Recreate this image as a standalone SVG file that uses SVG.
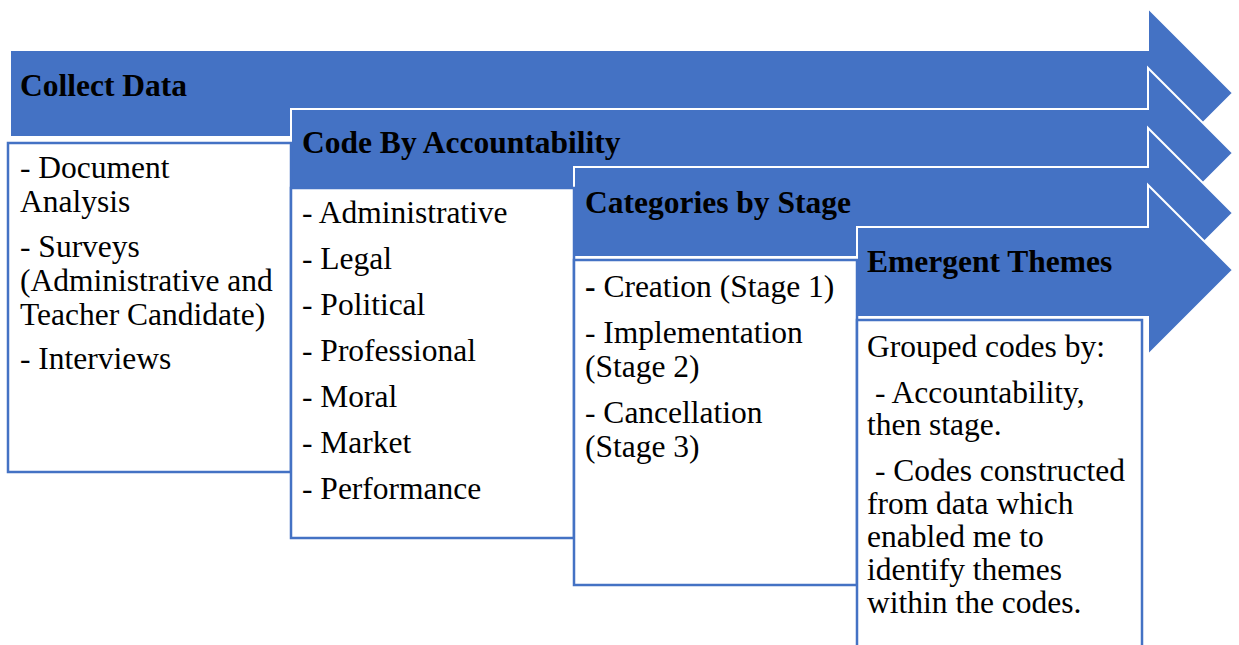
<svg xmlns="http://www.w3.org/2000/svg" width="1239" height="645" viewBox="0 0 1239 645">
  <style>
    .arrow { fill: #4472C4; stroke: #FFFFFF; stroke-width: 2; }
    .box { fill: #FFFFFF; stroke: #4472C4; stroke-width: 2.5; }
    text { font-family: "Times New Roman", Times, "Liberation Serif", serif; font-size: 31.5px; fill: #000000; }
    .head { font-weight: bold; }
  </style>
  <rect width="1239" height="645" fill="#FFFFFF"/>

  <!-- Step 1 -->
  <g id="step-collect-data">
    <path class="arrow" d="M10,50 H1148 V8 L1233,93 L1148,178 V137 H10 Z"/>
    <text class="head" x="20" y="96">Collect Data</text>
  </g>

  <!-- Step 2 -->
  <g id="step-code-by-accountability">
    <path class="arrow" d="M291,109 H1148 V68 L1233,153 L1148,238 V197 H291 Z"/>
    <text class="head" x="302" y="153">Code By Accountability</text>
  </g>

  <!-- Step 3 -->
  <g id="step-categories-by-stage">
    <path class="arrow" d="M574,167 H1148 V128 L1233,213 L1148,298 V257 H574 Z"/>
    <text class="head" x="585" y="213">Categories by Stage</text>
  </g>

  <!-- Step 4 -->
  <g id="step-emergent-themes">
    <path class="arrow" d="M857,227 H1148 V185 L1233,270 L1148,355 V317 H857 Z"/>
    <text class="head" x="867" y="272">Emergent Themes</text>
  </g>

  <!-- Detail boxes -->
  <g id="box-collect-data">
    <rect class="box" x="8" y="143" width="283" height="329"/>
    <text x="20" y="178">- Document</text>
    <text x="20" y="212">Analysis</text>
    <text x="20" y="257">- Surveys</text>
    <text x="20" y="291">(Administrative and</text>
    <text x="20" y="325">Teacher Candidate)</text>
    <text x="20" y="369">- Interviews</text>
  </g>

  <g id="box-code-by-accountability">
    <rect class="box" x="291" y="188" width="283" height="350"/>
    <text x="302" y="223">- Administrative</text>
    <text x="302" y="269">- Legal</text>
    <text x="302" y="315">- Political</text>
    <text x="302" y="361">- Professional</text>
    <text x="302" y="407">- Moral</text>
    <text x="302" y="453">- Market</text>
    <text x="302" y="499">- Performance</text>
  </g>

  <g id="box-categories-by-stage">
    <rect class="box" x="574" y="260" width="283" height="325"/>
    <text x="585" y="297"><tspan font-weight="bold">-</tspan> Creation (Stage 1)</text>
    <text x="585" y="343">- Implementation</text>
    <text x="585" y="377">(Stage 2)</text>
    <text x="585" y="423">- Cancellation</text>
    <text x="585" y="457">(Stage 3)</text>
  </g>

  <g id="box-emergent-themes">
    <rect class="box" x="857" y="320" width="285" height="340"/>
    <text x="867" y="357">Grouped codes by:</text>
    <text x="867" y="403" xml:space="preserve"> - Accountability,</text>
    <text x="867" y="435">then stage.</text>
    <text x="867" y="481" xml:space="preserve"> - Codes constructed</text>
    <text x="867" y="514">from data which</text>
    <text x="867" y="547">enabled me to</text>
    <text x="867" y="580">identify themes</text>
    <text x="867" y="613">within the codes.</text>
  </g>
</svg>
